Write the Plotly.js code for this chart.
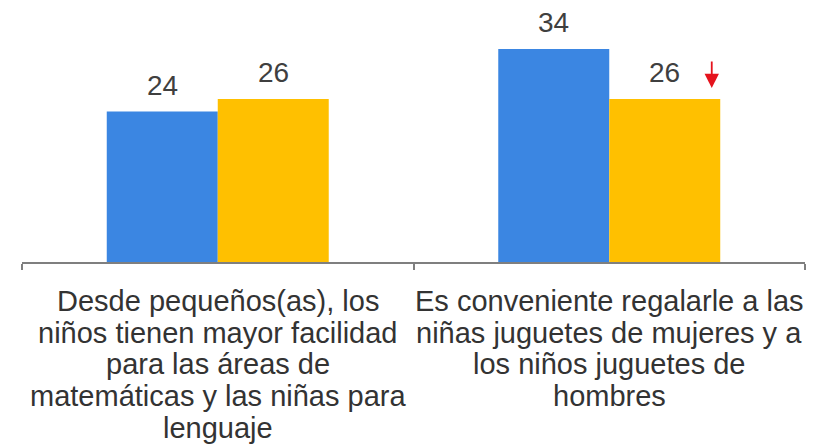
<!DOCTYPE html>
<html>
<head>
<meta charset="utf-8">
<script src="https://cdn.plot.ly/plotly-3.0.1.min.js"></script>
<style>html,body{margin:0;padding:0;background:#fff;}#chart{width:825px;height:445px;}</style>
</head>
<body>
<div id="chart"></div>
<script>
// Data
const categories = ["cat1", "cat2"];
const categoryLines = [
  ["Desde pequeños(as), los", "niños tienen mayor facilidad", "para las áreas de", "matemáticas y las niñas para", "lenguaje"],
  ["Es conveniente regalarle a las", "niñas juguetes de mujeres y a", "los niños juguetes de", "hombres"]
];
const seriesBlue = [24, 34];
const seriesYellow = [26, 26];
const arrowCategoryIndex = 1; // red arrow over yellow bar of 2nd category

const BLUE = "#3B86E2", YELLOW = "#FFC000";
const BARGAP = 0.433;
const catIdx = categories.map((c, i) => i);

const traces = [
  {type: "bar", x: catIdx, y: seriesBlue, marker: {color: BLUE}, hoverinfo: "none"},
  {type: "bar", x: catIdx, y: seriesYellow, marker: {color: YELLOW}, hoverinfo: "none"}
];

const annotations = [];
const half = (1 - BARGAP) / 2;
[seriesBlue, seriesYellow].forEach((s, j) => {
  s.forEach((v, i) => {
    annotations.push({
      x: i + (j - 0.5) * half, y: v, xref: "x", yref: "y",
      text: String(v), showarrow: false, yanchor: "bottom", yshift: 9,
      font: {family: "Liberation Sans, Arial, sans-serif", size: 28, color: "#3f3f3f"}
    });
  });
});
// category labels, one line each for tight line spacing
categoryLines.forEach((lines, i) => {
  lines.forEach((ln, k) => {
    annotations.push({
      x: i, y: 0, xref: "x", yref: "paper",
      text: ln, showarrow: false, yanchor: "top", yshift: -(21 + k * 31.7),
      font: {family: "Liberation Sans, Arial, sans-serif", size: 29, color: "#333333"}
    });
  });
});
// red arrow
annotations.push({
  x: arrowCategoryIndex + 0.5 * half, y: seriesYellow[arrowCategoryIndex],
  xref: "x", yref: "y", xshift: 47, yshift: 11,
  text: "", showarrow: true, ax: 0, ay: -28,
  arrowcolor: "#E5131D", arrowwidth: 1.8, arrowhead: 2, arrowsize: 1.6
});

const layout = {
  width: 825, height: 445,
  margin: {l: 22, r: 20, t: 0, b: 183, pad: 0},
  paper_bgcolor: "#ffffff", plot_bgcolor: "#ffffff",
  barmode: "group", bargap: BARGAP, bargroupgap: 0,
  showlegend: false,
  xaxis: {
    type: "linear", range: [-0.5, 1.5], showgrid: false, zeroline: false,
    showline: true, linecolor: "#7f7f7f", linewidth: 2,
    tickmode: "array", tickvals: [-0.5, 0.5, 1.5], showticklabels: false,
    ticks: "outside", ticklen: 6, tickwidth: 2, tickcolor: "#7f7f7f",
    fixedrange: true
  },
  yaxis: {range: [0, 41.8], visible: false, showgrid: false, zeroline: false, fixedrange: true},
  annotations: annotations
};

Plotly.newPlot("chart", traces, layout, {displayModeBar: false, staticPlot: true});
</script>
</body>
</html>
